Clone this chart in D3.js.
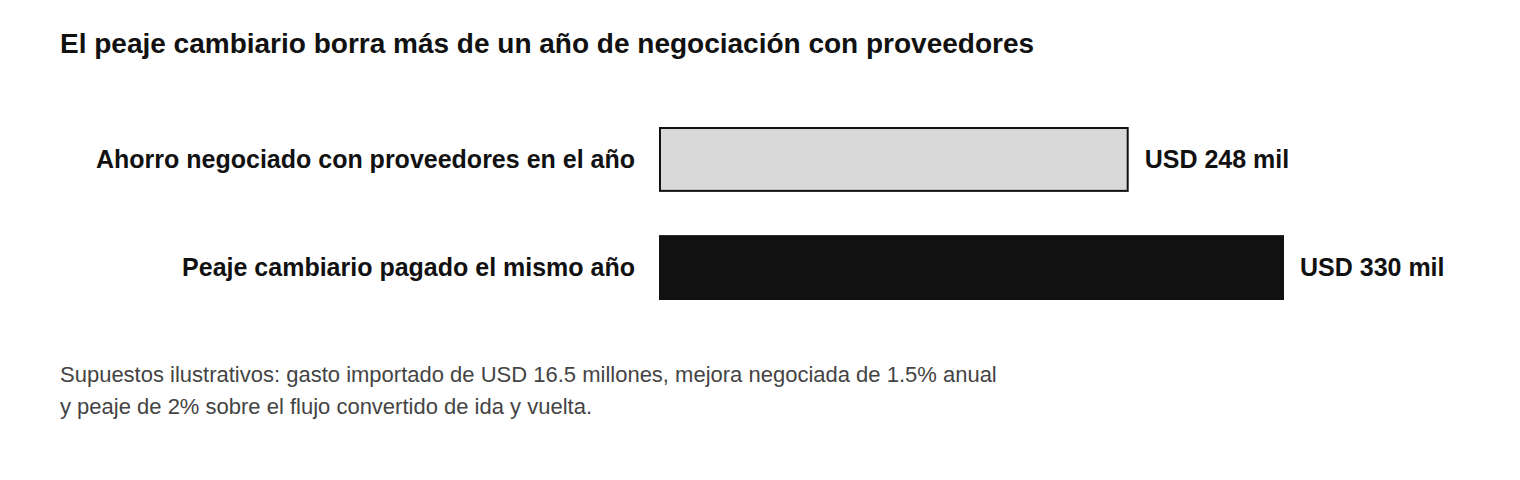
<!DOCTYPE html>
<html>
<head>
<meta charset="utf-8">
<script src="https://cdn.jsdelivr.net/npm/d3@7"></script>
<style>
  body { margin: 0; background: #fff; }
  text { font-family: "Liberation Sans", Arial, Helvetica, sans-serif; }
</style>
</head>
<body>
<div id="chart"></div>
<script>
// Chart data
var categories = ["Ahorro negociado con proveedores en el año", "Peaje cambiario pagado el mismo año"];
var values = [248, 330];
var valueLabels = ["USD 248 mil", "USD 330 mil"];
var barFills = ["#d9d9d9", "#111111"];
var title = "El peaje cambiario borra más de un año de negociación con proveedores";
var notes = [
  "Supuestos ilustrativos: gasto importado de USD 16.5 millones, mejora negociada de 1.5% anual",
  "y peaje de 2% sobre el flujo convertido de ida y vuelta."
];

var svgWidth = 1520;
var svgHeight = 480;

var svg = d3.select("#chart")
  .append("svg")
  .attr("width", svgWidth)
  .attr("height", svgHeight);

// title
svg.append("text")
  .attr("x", 60)
  .attr("y", 53)
  .attr("font-size", 28)
  .attr("font-weight", "bold")
  .attr("fill", "#111")
  .text(title);

// scales
var xScale = d3.scaleLinear()
  .domain([0, 330])
  .range([659, 1284]);

var yScale = d3.scaleBand()
  .domain(categories)
  .range([127, 300])
  .paddingInner(0.4)
  .paddingOuter(0);

var rows = svg.selectAll("g.row")
  .data(categories)
  .enter()
  .append("g")
  .attr("class", "row");

// bars (first one has an outline)
rows.append("rect")
  .attr("x", (d, i) => i === 0 ? xScale(0) + 1 : xScale(0))
  .attr("y", (d, i) => i === 0 ? yScale(d) + 1 : yScale(d))
  .attr("width", (d, i) => xScale(values[i]) - xScale(0) - (i === 0 ? 2 : 0))
  .attr("height", (d, i) => yScale.bandwidth() - (i === 0 ? 2 : 0))
  .attr("fill", (d, i) => barFills[i])
  .attr("stroke", (d, i) => i === 0 ? "#111" : "none")
  .attr("stroke-width", 2);

// category labels
rows.append("text")
  .attr("x", 635)
  .attr("y", d => yScale(d) + yScale.bandwidth() / 2)
  .attr("dy", "0.35em")
  .attr("text-anchor", "end")
  .attr("font-size", 25)
  .attr("font-weight", "bold")
  .attr("fill", "#111")
  .text(d => d);

// value labels
rows.append("text")
  .attr("x", (d, i) => xScale(values[i]) + 16)
  .attr("y", d => yScale(d) + yScale.bandwidth() / 2)
  .attr("dy", "0.35em")
  .attr("font-size", 25)
  .attr("font-weight", "bold")
  .attr("fill", "#111")
  .text((d, i) => valueLabels[i]);

// footnote
svg.selectAll("text.note")
  .data(notes)
  .enter()
  .append("text")
  .attr("class", "note")
  .attr("x", 60)
  .attr("y", (d, i) => 382 + i * 32)
  .attr("font-size", 22)
  .attr("fill", "#444")
  .text(d => d);
</script>
</body>
</html>
